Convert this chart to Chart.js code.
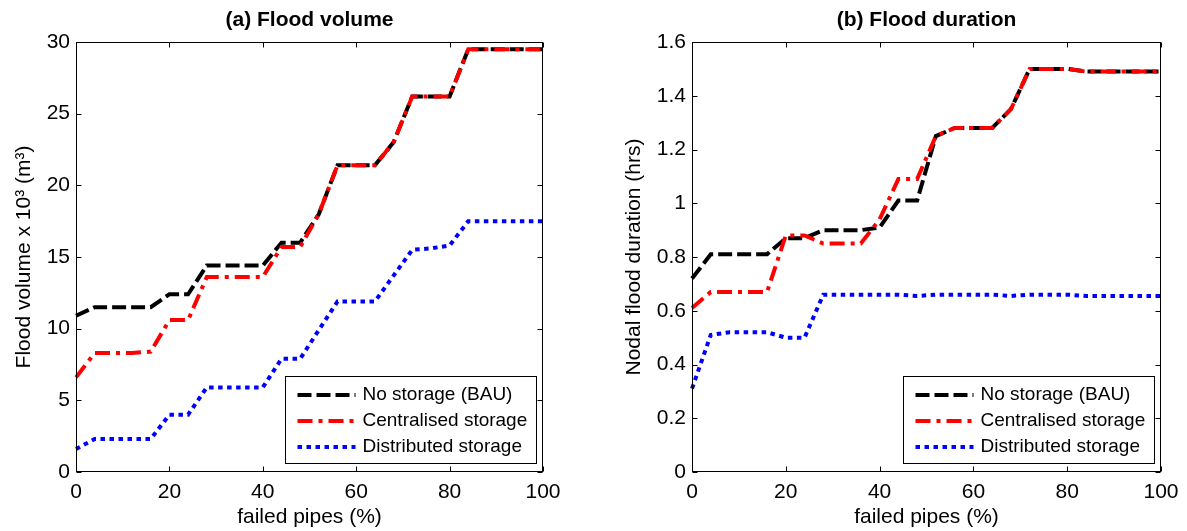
<!DOCTYPE html>
<html>
<head>
<meta charset="utf-8">
<script src="https://cdn.jsdelivr.net/npm/chart.js@4"></script>
<style>
  html, body { margin: 0; padding: 0; background: #fff; }
  .box { position: absolute; top: 0; height: 531px; }
  #boxA { left: 0; width: 593px; }
  #boxB { left: 593px; width: 594px; }
</style>
</head>
<body>
<div class="box" id="boxA"><canvas id="volChart"></canvas></div>
<div class="box" id="boxB"><canvas id="durChart"></canvas></div>
<script>
// failed pipes (%)
const failedPipes = [0, 4, 8, 12, 16, 20, 24, 28, 32, 36, 40, 44, 48, 52, 56, 60, 64, 68, 72, 76, 80, 84, 88, 92, 96, 100];

// (a) flood volume x 10^3 m3
const volNoStorage = [10.9, 11.5, 11.5, 11.5, 11.5, 12.4, 12.4, 14.4, 14.4, 14.4, 14.4, 16.0, 16.0, 18.0, 21.4, 21.4, 21.4, 23.0, 26.2, 26.2, 26.2, 29.5, 29.5, 29.5, 29.5, 29.5];
const volCentral   = [6.6, 8.3, 8.3, 8.3, 8.4, 10.6, 10.6, 13.6, 13.6, 13.6, 13.6, 15.7, 15.7, 18.0, 21.4, 21.4, 21.4, 23.0, 26.2, 26.2, 26.2, 29.5, 29.5, 29.5, 29.5, 29.5];
const volDistrib   = [1.6, 2.3, 2.3, 2.3, 2.3, 4.0, 4.0, 5.9, 5.9, 5.9, 5.9, 7.9, 7.9, 9.9, 11.9, 11.9, 11.9, 13.7, 15.5, 15.6, 15.8, 17.5, 17.5, 17.5, 17.5, 17.5];

// (b) nodal flood duration (hrs)
const durNoStorage = [0.72, 0.81, 0.81, 0.81, 0.81, 0.87, 0.87, 0.90, 0.90, 0.90, 0.91, 1.01, 1.01, 1.25, 1.28, 1.28, 1.28, 1.35, 1.50, 1.50, 1.50, 1.49, 1.49, 1.49, 1.49, 1.49];
const durCentral   = [0.61, 0.67, 0.67, 0.67, 0.67, 0.88, 0.88, 0.85, 0.85, 0.85, 0.94, 1.09, 1.09, 1.25, 1.28, 1.28, 1.28, 1.35, 1.50, 1.50, 1.50, 1.49, 1.49, 1.49, 1.49, 1.49];
const durDistrib   = [0.31, 0.51, 0.52, 0.52, 0.52, 0.50, 0.50, 0.66, 0.66, 0.66, 0.66, 0.66, 0.655, 0.66, 0.66, 0.66, 0.66, 0.655, 0.66, 0.66, 0.66, 0.655, 0.655, 0.655, 0.655, 0.655];

const seriesNames = ['No storage (BAU)', 'Centralised storage', 'Distributed storage'];

const FONT = 'Liberation Sans, Arial, Helvetica, sans-serif';

function pts(ys) {
  return failedPipes.map((x, i) => ({ x: x, y: ys[i] }));
}

function makeDatasets(black, red, blue) {
  return [
    { label: seriesNames[0], data: pts(black), borderColor: '#000000', borderDash: [14, 5], order: 1 },
    { label: seriesNames[1], data: pts(red), borderColor: '#ff0000', borderDash: [15, 6, 4, 6], order: 0 },
    { label: seriesNames[2], data: pts(blue), borderColor: '#0000ff', borderDash: [4.5, 4.5], order: 2 }
  ].map(d => Object.assign(d, {
    borderWidth: 4, pointRadius: 0, tension: 0, fill: false, borderCapStyle: 'butt', clip: 6
  }));
}

// box round the plot, inward ticks on all sides, legend in the lower right
const matlabFrame = {
  id: 'matlabFrame',
  afterDatasetsDraw(chart) {
    const ctx = chart.ctx;
    const a = chart.chartArea;
    const l = Math.round(a.left) + 0.5, r = Math.round(a.right) - 0.5;
    const t = Math.round(a.top) + 0.5, b = Math.round(a.bottom) - 0.5;
    ctx.save();
    ctx.strokeStyle = '#000';
    ctx.lineWidth = 1;
    ctx.strokeRect(l, t, r - l, b - t);
    ctx.beginPath();
    chart.scales.x.ticks.forEach(tk => {
      const px = Math.round(chart.scales.x.getPixelForValue(tk.value)) + 0.5;
      ctx.moveTo(px, b); ctx.lineTo(px, b - 5);
      ctx.moveTo(px, t); ctx.lineTo(px, t + 5);
    });
    chart.scales.y.ticks.forEach(tk => {
      const py = Math.round(chart.scales.y.getPixelForValue(tk.value)) + 0.5;
      ctx.moveTo(l, py); ctx.lineTo(l + 5, py);
      ctx.moveTo(r, py); ctx.lineTo(r - 5, py);
    });
    ctx.stroke();
    ctx.restore();
  },
  afterDraw(chart) {
    const ctx = chart.ctx;
    const a = chart.chartArea;
    const w = 251, h = 87;
    const bx = Math.round(a.right - 7 - w) + 0.5;
    const by = Math.round(a.bottom - 9 - h) + 0.5;
    ctx.save();
    ctx.fillStyle = '#fff';
    ctx.fillRect(bx, by, w, h);
    ctx.strokeStyle = '#000';
    ctx.lineWidth = 1;
    ctx.strokeRect(bx, by, w, h);
    ctx.font = '19px ' + FONT;
    ctx.textBaseline = 'middle';
    chart.data.datasets.forEach((ds, i) => {
      const yy = by + 18.5 + i * 26;
      ctx.beginPath();
      ctx.strokeStyle = ds.borderColor;
      ctx.lineWidth = ds.borderWidth;
      ctx.setLineDash(ds.borderDash);
      ctx.moveTo(bx + 12, yy);
      ctx.lineTo(bx + 70, yy);
      ctx.stroke();
      ctx.setLineDash([]);
      ctx.fillStyle = '#000';
      ctx.fillText(ds.label, bx + 77, yy);
    });
    ctx.restore();
  }
};

function makeChart(id, title, yTitle, datasets, yMax, yStep, yWidth, yTitlePad, rightPad) {
  return new Chart(document.getElementById(id), {
    type: 'line',
    data: { datasets: datasets },
    options: {
      responsive: true,
      maintainAspectRatio: false,
      animation: false,
      layout: { padding: { left: 0, right: rightPad, top: 0, bottom: 0 } },
      plugins: {
        legend: { display: false },
        tooltip: { enabled: false },
        title: {
          display: true,
          text: title,
          fullSize: false,
          color: '#000',
          font: { family: FONT, size: 21, weight: 'bold' },
          padding: { top: 8, bottom: 8.8 }
        }
      },
      scales: {
        x: {
          type: 'linear',
          min: 0,
          max: 100,
          grid: { display: false, drawTicks: false },
          border: { display: false },
          ticks: { stepSize: 20, color: '#000', padding: 8, font: { family: FONT, size: 21 } },
          title: {
            display: true, text: 'failed pipes (%)', color: '#000',
            font: { family: FONT, size: 21 }, padding: { top: 0, bottom: 1 }
          },
          afterFit: s => { s.height = 59; }
        },
        y: {
          min: 0,
          max: yMax,
          grid: { display: false, drawTicks: false },
          border: { display: false },
          ticks: {
            stepSize: yStep, color: '#000', padding: 6, font: { family: FONT, size: 21 },
            callback: v => String(Number(v.toFixed(2)))
          },
          title: {
            display: true, text: yTitle, color: '#000',
            font: { family: FONT, size: 21 }, padding: { top: yTitlePad, bottom: 0 }
          },
          afterFit: s => { s.width = yWidth; }
        }
      }
    },
    plugins: [matlabFrame]
  });
}

makeChart('volChart', '(a) Flood volume', 'Flood volume x 10³ (m³)',
  makeDatasets(volNoStorage, volCentral, volDistrib), 30, 5, 76, 12, 50);

makeChart('durChart', '(b) Flood duration', 'Nodal flood duration (hrs)',
  makeDatasets(durNoStorage, durCentral, durDistrib), 1.6, 0.2, 99, 29, 26);
</script>
</body>
</html>
